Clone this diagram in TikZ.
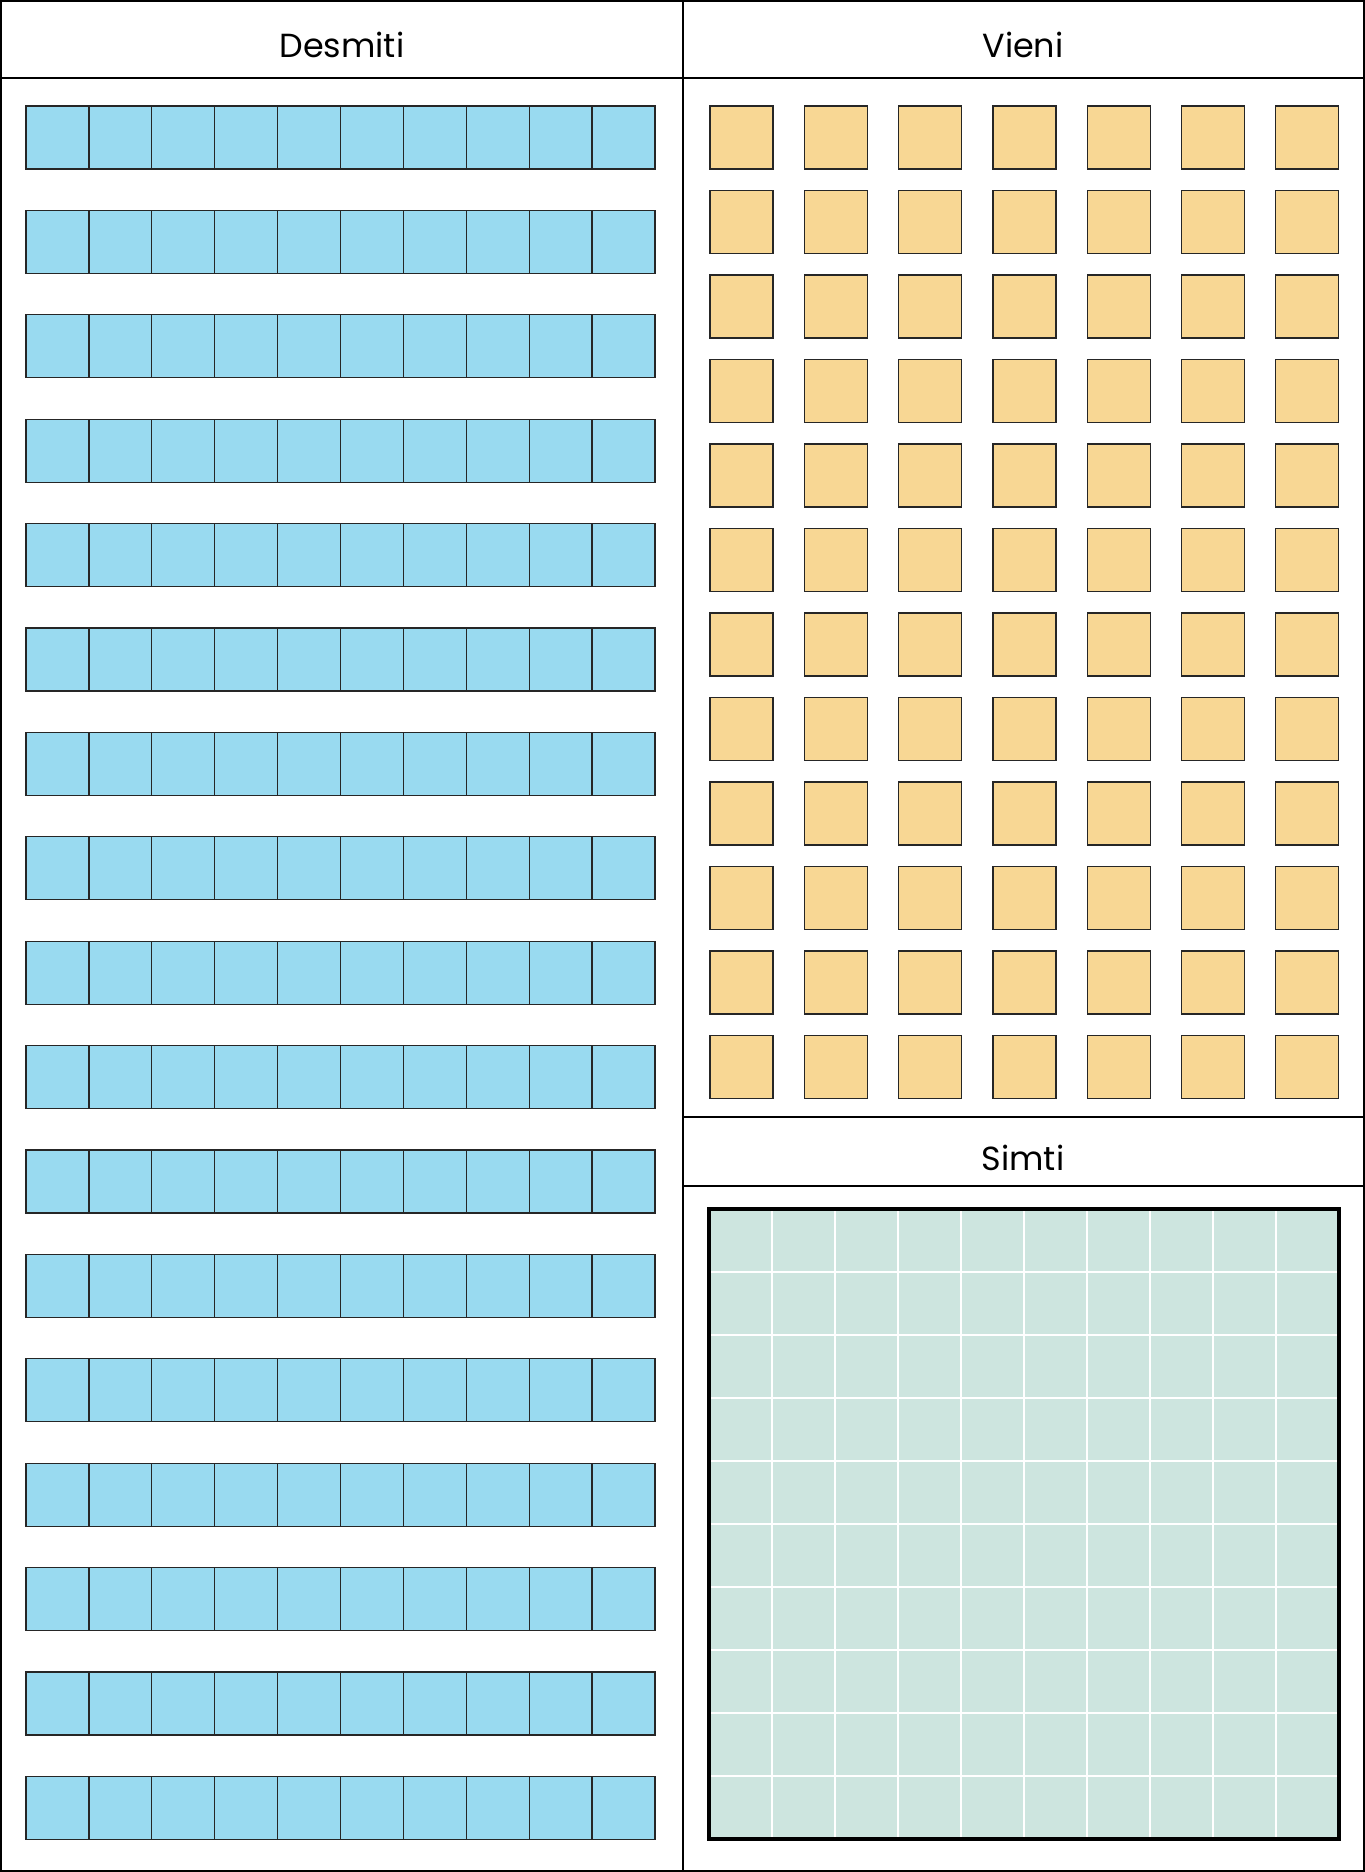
\documentclass[tikz,border=0pt]{standalone}
\usepackage{fontspec}
\setmainfont{Poppins}
\definecolor{TenBlue}{HTML}{99DAF0}
\definecolor{OneSand}{HTML}{F8D794}
\definecolor{HundredTeal}{HTML}{CDE5DF}

\begin{document}
\begin{tikzpicture}[x=0.02cm,y=-0.02cm,
    frameline/.style={draw=black,line width=0.6pt},
    tencell/.style={draw=black!85,line width=0.75pt,fill=TenBlue},
    onecell/.style={draw=black!85,line width=0.75pt,fill=OneSand},
    hundredgrid/.style={draw=white,line width=0.9pt},
    hundredframe/.style={draw=black,line width=1.8pt},
    heading/.style={font=\fontsize{19}{22}\selectfont,anchor=center,inner sep=0pt}
  ]
    \useasboundingbox (0,0) rectangle (1365,1872);

    % panel frames
    \draw[frameline] (1,1) rectangle (1364,1871);
    \draw[frameline] (683,1) -- (683,1871);
    \draw[frameline] (1,78) -- (1364,78);
    \draw[frameline] (683,1117) -- (1364,1117);
    \draw[frameline] (683,1186) -- (1364,1186);

    \node[heading] (desmiti) at (342,45) {Desmiti};
    \node[heading] (vieni) at (1023,45) {Vieni};
    \node[heading] (simti) at (1023,1158) {Simti};

    % tens: 17 bars of 10
    \foreach \r in {0,...,16}
      \foreach \c in {0,...,9}
        \draw[tencell] ({26+62.9*\c},{106+104.4*\r}) rectangle ++(62.9,63);

    % ones: 7 x 12
    \foreach \r in {0,...,11}
      \foreach \c in {0,...,6}
        \draw[onecell] ({710+94.3*\c},{106+84.5*\r}) rectangle ++(63,63);

    % hundred
    \fill[HundredTeal] (709,1209) rectangle (1339,1839);
    \foreach \k in {1,...,9} {
      \draw[hundredgrid] ({709+63*\k},1209) -- ({709+63*\k},1839);
      \draw[hundredgrid] (709,{1209+63*\k}) -- (1339,{1209+63*\k});
    }
    \draw[hundredframe] (709,1209) rectangle (1339,1839);
  \end{tikzpicture}
\end{document}
